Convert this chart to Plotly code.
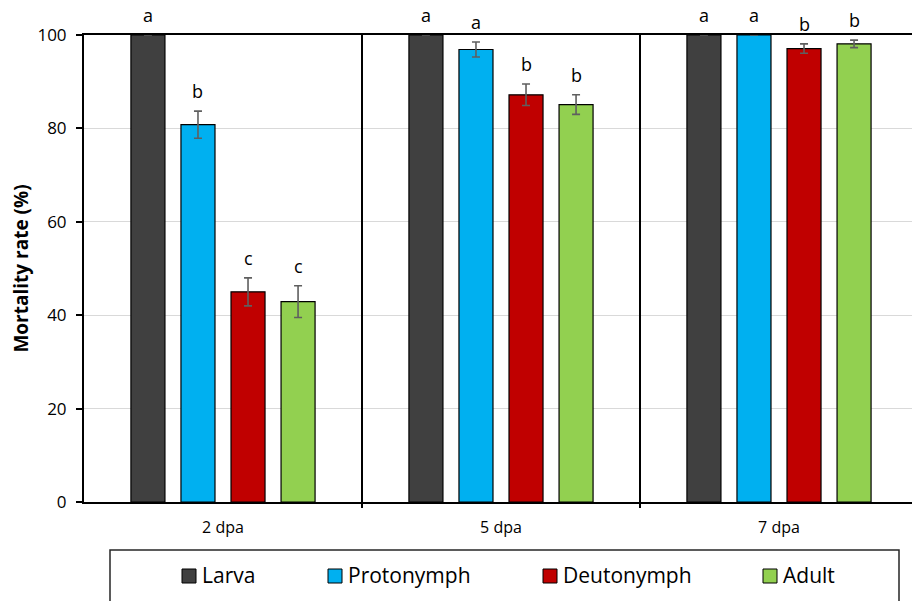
import plotly.graph_objects as go

# Days post application (x categories) and life stages (series)
days = ["2 dpa", "5 dpa", "7 dpa"]
stages = ["Larva", "Protonymph", "Deutonymph", "Adult"]
colors = ["#404040", "#00b0f0", "#c00000", "#92d050"]

# Mean mortality (%) per stage
larva = [100, 100, 100]
protonymph = [80.8, 96.9, 100]
deutonymph = [45.0, 87.2, 97.1]
adult = [42.9, 85.1, 98.1]

# Standard errors
larva_err = [0, 0, 0]
protonymph_err = [2.9, 1.6, 0]
deutonymph_err = [3.0, 2.3, 1.0]
adult_err = [3.4, 2.1, 0.8]

# Significance letters
larva_sig = ["a", "a", "a"]
protonymph_sig = ["b", "a", "a"]
deutonymph_sig = ["c", "b", "b"]
adult_sig = ["c", "b", "b"]

y_ticks = [0, 20, 40, 60, 80, 100]

values = [larva, protonymph, deutonymph, adult]
errors = [larva_err, protonymph_err, deutonymph_err, adult_err]
letters = [larva_sig, protonymph_sig, deutonymph_sig, adult_sig]

FONT = "'Open Sans', Lato, sans-serif"
W, H = 912, 601
ML, MR, MT, MB = 84, 0, 35, 99
PW, PH = W - ML - MR, H - MT - MB
BARGAP, GROUPGAP = 0.28, 0.32
UNIT = 278  # pixels per category band


def px(x):
    return (x - ML) / PW


def py(y):
    return (H - MB - y) / PH


xs = list(range(len(days)))
fig = go.Figure()

for k, name in enumerate(stages):
    fig.add_trace(go.Bar(
        x=xs, y=values[k], name=name,
        marker=dict(color=colors[k], line=dict(color="black", width=1.2)),
        error_y=dict(type="data", array=errors[k], visible=True,
                     color="#5f5f5f", thickness=1.6, width=4),
        cliponaxis=False, showlegend=False,
    ))

# Significance letters above each error bar
slot = (1 - BARGAP) / len(stages)
annotations = []
for k in range(len(stages)):
    for i in xs:
        annotations.append(dict(
            x=i + (k - (len(stages) - 1) / 2) * slot,
            y=values[k][i] + errors[k][i],
            xref="x", yref="y", text=letters[k][i], showarrow=False,
            yanchor="bottom", yshift=6,
            font=dict(family=FONT, size=18, color="black"),
        ))

# Legend drawn as a boxed row of swatches and labels
shapes = [dict(type="rect", xref="paper", yref="paper",
               x0=px(110), x1=px(899), y0=py(550), y1=py(615),
               line=dict(color="#262626", width=1.5), fillcolor="rgba(0,0,0,0)")]
legend_x = [182, 328, 543, 763]
for k, name in enumerate(stages):
    shapes.append(dict(type="rect", xref="paper", yref="paper",
                       x0=px(legend_x[k]), x1=px(legend_x[k] + 14),
                       y0=py(583), y1=py(569),
                       line=dict(color="black", width=1), fillcolor=colors[k]))
    annotations.append(dict(x=px(legend_x[k] + 18), y=py(575), xref="paper", yref="paper",
                            text=name, showarrow=False, xanchor="left", yanchor="middle",
                            font=dict(family=FONT, size=21, color="black")))

# Category separators running through the plot and below the axis
n_days = len(days)
for b in range(1, n_days):
    shapes.append(dict(type="line", xref="x", yref="paper",
                       x0=b - 0.5, x1=b - 0.5, y0=1, y1=-6 / PH,
                       line=dict(color="black", width=2), layer="above"))

fig.update_layout(
    width=W, height=H,
    margin=dict(l=ML, r=MR, t=MT, b=MB, autoexpand=False),
    paper_bgcolor="white", plot_bgcolor="white",
    barmode="group", bargap=BARGAP, bargroupgap=GROUPGAP,
    font=dict(family=FONT, color="black"),
    shapes=shapes, annotations=annotations, showlegend=False,
)

fig.update_xaxes(
    range=[-0.5, -0.5 + PW / UNIT],
    tickvals=xs, ticktext=days, ticks="", ticklabelstandoff=10,
    tickfont=dict(family=FONT, size=16, color="black"),
    showline=True, linecolor="black", linewidth=2, mirror=True,
    showgrid=False, zeroline=False, layer="below traces",
)

fig.update_yaxes(
    range=[0, 100], tickvals=y_ticks,
    ticks="outside", ticklen=6, tickwidth=2, tickcolor="black",
    ticklabelstandoff=6,
    tickfont=dict(family=FONT, size=17, color="black"),
    showline=True, linecolor="black", linewidth=2,
    showgrid=True, gridcolor="#d9d9d9", gridwidth=1, zeroline=False,
    title=dict(text="<b>Mortality rate (%)</b>", standoff=4,
               font=dict(family=FONT, size=19, color="black")),
    layer="below traces",
)

fig.write_html("out.html")
